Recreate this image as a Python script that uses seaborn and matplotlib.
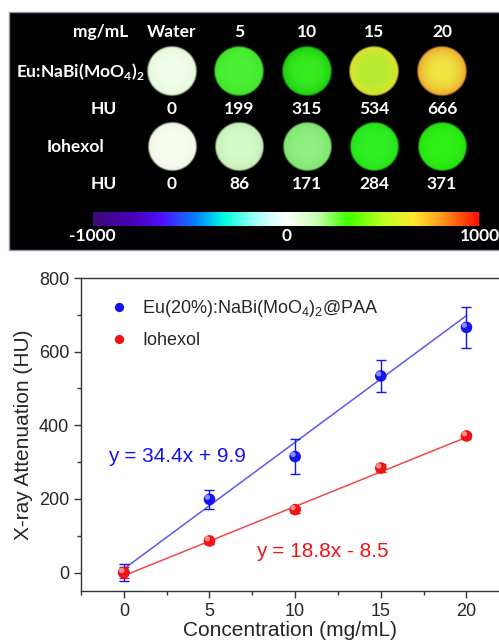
import numpy as np
import pandas as pd
import seaborn as sns
import matplotlib.pyplot as plt
from matplotlib.patches import Rectangle
from matplotlib.colors import LinearSegmentedColormap, to_rgb
from matplotlib.transforms import offset_copy

# data
conc = [0, 5, 10, 15, 20]
conc_labels = ["Water", "5", "10", "15", "20"]
eu_hu = [0, 199, 315, 534, 666]
eu_err = [22, 25, 48, 44, 56]
io_hu = [0, 86, 171, 284, 371]
io_err = [14, 8, 8, 10, 9]
eu_fit = (34.4, 9.9)
io_fit = (18.8, -8.5)
cbar_ticks = [-1000, 0, 1000]

eu_name = "Eu(20%):NaBi(MoO$_4$)$_2$@PAA"
io_name = "Iohexol"

sns.set_theme(style="ticks")
plt.rcParams['font.family'] = ['Liberation Sans', 'DejaVu Sans']
plt.rcParams['mathtext.fontset'] = 'custom'
plt.rcParams['mathtext.rm'] = 'Liberation Sans'
plt.rcParams['mathtext.bf'] = 'Lato:bold'

fig = plt.figure(figsize=(4.99, 6.43), dpi=100)

# ---- top panel: CT phantom images ----
top = fig.add_axes([0, 383 / 643, 1, 260 / 643])
top.axis('off')
top.add_patch(Rectangle((9, 12), 495, 238, facecolor='black', edgecolor='#8898a8', lw=1, zorder=0))

eu_fill = ['#f4fdec', '#4cf034', '#36ec20', '#b4ec30', '#eee640']
eu_rim = ['#e0f6d4', '#40e42a', '#1cc810', '#e8e030', '#f09a2c']
io_fill = ['#f8fdf2', '#d6fac8', '#90f080', '#32ee24', '#30f014']
io_rim = ['#ecf6e2', '#c4eeb4', '#7ce46c', '#24e018', '#22e010']


def phantom(ax, x, y, r, fill, rim):
    # soft-edged disc, centre colour fading into rim colour
    n = 80
    g = np.linspace(-1.05, 1.05, n)
    gx, gy = np.meshgrid(g, g)
    rr = np.hypot(gx, gy)
    t = np.clip(rr, 0, 1) ** 3
    c0, c1 = np.array(to_rgb(fill)), np.array(to_rgb(rim))
    img = np.zeros((n, n, 4))
    img[..., :3] = c0 * (1 - t[..., None]) + c1 * t[..., None]
    img[..., 3] = np.clip((1.0 - rr) / 0.07, 0, 1)
    ax.imshow(img, extent=[x - 1.05 * r, x + 1.05 * r, y + 1.05 * r, y - 1.05 * r],
              interpolation='bilinear', zorder=2)


col_x = [172, 239, 307, 374, 442]
tfont = dict(family=['Lato', 'DejaVu Sans'], fontweight='bold', color='white', fontsize=12.5,
             ha='center', va='center', zorder=3)

top.text(101, 32, "mg/mL", **tfont)
top.text(80, 71, "Eu:NaBi(MoO$_\\mathbf{4}$)$_\\mathbf{2}$", **tfont)
top.text(104, 109, "HU", **tfont)
top.text(76, 147, "Iohexol", **tfont)
top.text(104, 184, "HU", **tfont)
for i, x in enumerate(col_x):
    top.text(x, 32, conc_labels[i], **tfont)
    phantom(top, x, 71, 25.5, eu_fill[i], eu_rim[i])
    top.text(x, 109, str(eu_hu[i]), **tfont)
    phantom(top, x, 147, 25, io_fill[i], io_rim[i])
    top.text(x, 184, str(io_hu[i]), **tfont)

ct_cmap = LinearSegmentedColormap.from_list('ct', [
    (0.0, '#3c0a78'), (0.1, '#4a00b8'), (0.18, '#5010ff'), (0.27, '#0088ff'),
    (0.34, '#00ffe0'), (0.42, '#a0fff8'), (0.5, '#ffffff'), (0.58, '#c8ffb0'),
    (0.66, '#40ff00'), (0.75, '#b8ff20'), (0.83, '#ffe830'), (0.9, '#ffa020'),
    (1.0, '#ff1000')])
grad = np.linspace(cbar_ticks[0], cbar_ticks[-1], 256).reshape(1, -1)
top.imshow(grad, cmap=ct_cmap, extent=[93, 479, 226, 212], aspect='auto',
           vmin=cbar_ticks[0], vmax=cbar_ticks[-1], zorder=2)
for x, t in zip([92, 287, 480], cbar_ticks):
    top.text(x, 236, str(t), **tfont)
top.set_xlim(0, 499)
top.set_ylim(260, 0)
top.set_aspect('auto')

# ---- bottom panel: attenuation vs concentration ----
ax = fig.add_axes([81 / 499, 52 / 643, 418 / 499, 313 / 643])
df = pd.DataFrame({
    'conc': conc * 2,
    'hu': eu_hu + io_hu,
    'sample': [eu_name] * len(conc) + [io_name] * len(conc),
})
palette = {eu_name: '#1414f0', io_name: '#f01414'}
line_col = {eu_name: '#5a5af0', io_name: '#f04848'}

xs = np.array(conc, dtype=float)
sns.lineplot(x=xs, y=eu_fit[0] * xs + eu_fit[1], color=line_col[eu_name], lw=1.1, ax=ax, zorder=1)
sns.lineplot(x=xs, y=io_fit[0] * xs + io_fit[1], color=line_col[io_name], lw=1.1, ax=ax, zorder=1)

ax.errorbar(conc, eu_hu, yerr=eu_err, fmt='none', ecolor=palette[eu_name], elinewidth=1,
            capsize=3.5, capthick=1, zorder=2)
ax.errorbar(conc, io_hu, yerr=io_err, fmt='none', ecolor=palette[io_name], elinewidth=1,
            capsize=3.5, capthick=1, zorder=2)

sns.scatterplot(data=df, x='conc', y='hu', hue='sample', palette=palette, s=70,
                edgecolor='none', ax=ax, zorder=3)
# little highlight so the dots look like spheres
hl = offset_copy(ax.transData, fig=fig, x=-1.5, y=1.5, units='points')
ax.scatter(conc, eu_hu, s=14, color='#8c8cff', edgecolor='none', transform=hl, zorder=4)
ax.scatter(conc, io_hu, s=14, color='#ff9090', edgecolor='none', transform=hl, zorder=4)

ax.set_xlim(-2.5, 21.9)
ax.set_ylim(-50, 800)
ax.set_xticks([0, 5, 10, 15, 20])
ax.set_xticks([-2.5, 2.5, 7.5, 12.5, 17.5], minor=True)
ax.set_yticks([0, 200, 400, 600, 800])
ax.set_yticks([100, 300, 500, 700], minor=True)
ax.tick_params(which='major', length=5, width=1, labelsize=13, color='#333333')
ax.tick_params(which='minor', length=3, width=1, color='#333333')
for s in ['left', 'bottom', 'top']:
    ax.spines[s].set_color('#333333')
    ax.spines[s].set_linewidth(1)
ax.spines['right'].set_visible(False)
ax.set_xlabel("Concentration (mg/mL)", fontsize=15, labelpad=1)
ax.set_ylabel("X-ray Attenuation (HU)", fontsize=15, labelpad=4)

ax.text(-0.9, 314, "y = %.1fx + %.1f" % eu_fit, color='#1414f0', fontsize=15, va='center')
ax.text(7.7, 57, "y = %.1fx - %.1f" % (io_fit[0], -io_fit[1]), color='#f01414', fontsize=15,
        va='center')

ax.legend(loc='upper left', bbox_to_anchor=(0.0, 1.0), frameon=False, fontsize=13,
          handletextpad=0.3, labelspacing=0.75, borderaxespad=0.7, markerscale=0.8)

fig.savefig('out.png', dpi=100)
